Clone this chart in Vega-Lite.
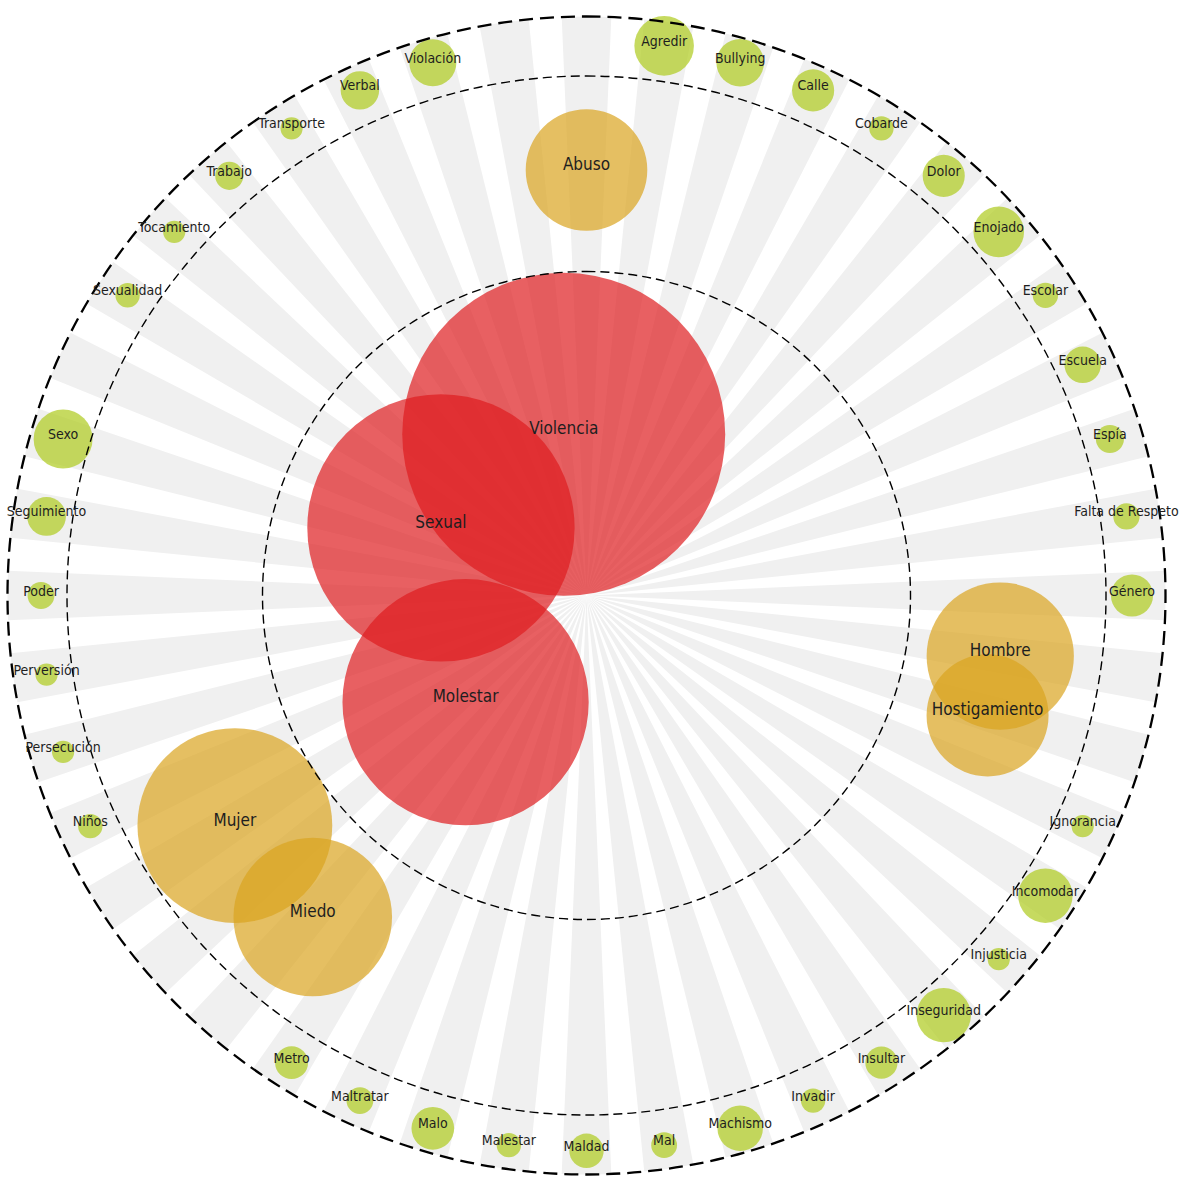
{
  "$schema": "https://vega.github.io/schema/vega-lite/v6.json",
  "width": 1173,
  "height": 1179,
  "autosize": "none",
  "padding": {"left": 0, "top": 6, "right": 24, "bottom": 0},
  "background": "white",
  "config": {"view": {"stroke": null}},
  "data": {
    "values": [
      {"palabra": "Abuso", "nivel": "media", "peso": 30},
      {"palabra": "Agredir", "nivel": "baja", "peso": 7.2},
      {"palabra": "Bullying", "nivel": "baja", "peso": 4.6},
      {"palabra": "Calle", "nivel": "baja", "peso": 3.6},
      {"palabra": "Cobarde", "nivel": "baja", "peso": 1.2},
      {"palabra": "Dolor", "nivel": "baja", "peso": 3.6},
      {"palabra": "Enojado", "nivel": "baja", "peso": 5.2},
      {"palabra": "Escolar", "nivel": "baja", "peso": 1.3},
      {"palabra": "Escuela", "nivel": "baja", "peso": 2.7},
      {"palabra": "Espía", "nivel": "baja", "peso": 1.6},
      {"palabra": "Falta de Respeto", "nivel": "baja", "peso": 1.4},
      {"palabra": "Género", "nivel": "baja", "peso": 3.6},
      {"palabra": "Hombre", "nivel": "media", "peso": 44},
      {"palabra": "Hostigamiento", "nivel": "media", "peso": 30.2},
      {"palabra": "Ignorancia", "nivel": "baja", "peso": 1},
      {"palabra": "Incomodar", "nivel": "baja", "peso": 6},
      {"palabra": "Injusticia", "nivel": "baja", "peso": 1},
      {"palabra": "Inseguridad", "nivel": "baja", "peso": 6},
      {"palabra": "Insultar", "nivel": "baja", "peso": 2.1},
      {"palabra": "Invadir", "nivel": "baja", "peso": 1.2},
      {"palabra": "Machismo", "nivel": "baja", "peso": 4.2},
      {"palabra": "Mal", "nivel": "baja", "peso": 1.35},
      {"palabra": "Maldad", "nivel": "baja", "peso": 2.4},
      {"palabra": "Malestar", "nivel": "baja", "peso": 1.2},
      {"palabra": "Malo", "nivel": "baja", "peso": 3.7},
      {"palabra": "Maltratar", "nivel": "baja", "peso": 1.46},
      {"palabra": "Metro", "nivel": "baja", "peso": 2.2},
      {"palabra": "Miedo", "nivel": "media", "peso": 51},
      {"palabra": "Molestar", "nivel": "alta", "peso": 123},
      {"palabra": "Mujer", "nivel": "media", "peso": 77},
      {"palabra": "Niños", "nivel": "baja", "peso": 1.2},
      {"palabra": "Persecución", "nivel": "baja", "peso": 1},
      {"palabra": "Perversión", "nivel": "baja", "peso": 1},
      {"palabra": "Poder", "nivel": "baja", "peso": 1.46},
      {"palabra": "Seguimiento", "nivel": "baja", "peso": 3.05},
      {"palabra": "Sexo", "nivel": "baja", "peso": 7.05},
      {"palabra": "Sexual", "nivel": "alta", "peso": 145},
      {"palabra": "Sexualidad", "nivel": "baja", "peso": 1.2},
      {"palabra": "Tocamiento", "nivel": "baja", "peso": 1},
      {"palabra": "Trabajo", "nivel": "baja", "peso": 1.6},
      {"palabra": "Transporte", "nivel": "baja", "peso": 1},
      {"palabra": "Verbal", "nivel": "baja", "peso": 3},
      {"palabra": "Violación", "nivel": "baja", "peso": 4.5},
      {"palabra": "Violencia", "nivel": "alta", "peso": 211.6}
    ]
  },
  "transform": [
    {"window": [{"op": "row_number", "as": "orden"}], "sort": [{"field": "palabra", "order": "ascending"}]},
    {"joinaggregate": [{"op": "count", "as": "total"}]},
    {"calculate": "datum.nivel === 'alta' ? 160 : (datum.nivel === 'media' ? 418 : 545.5)", "as": "radio"},
    {"calculate": "2 * PI * (datum.orden - 1) / datum.total", "as": "angulo"},
    {"calculate": "datum.angulo - 0.3 * 2 * PI / datum.total", "as": "ang_ini"},
    {"calculate": "datum.angulo + 0.3 * 2 * PI / datum.total", "as": "ang_fin"},
    {"calculate": "datum.radio * sin(datum.angulo)", "as": "px"},
    {"calculate": "datum.radio * cos(datum.angulo)", "as": "py"}
  ],
  "layer": [
    {
      "mark": {"type": "arc", "radius": 579, "fill": "#f0f0f0", "strokeWidth": 0},
      "encoding": {
        "theta": {"field": "ang_ini", "type": "quantitative", "stack": null, "scale": {"domain": [0, 6.283185307179586], "range": [0, 6.283185307179586], "zero": false, "nice": false}},
        "theta2": {"field": "ang_fin"}
      }
    },
    {
      "mark": {"type": "point", "shape": "circle", "filled": true, "opacity": 0.7, "strokeWidth": 0},
      "encoding": {
        "x": {"field": "px", "type": "quantitative", "scale": {"domain": [-586.5, 586.5], "nice": false, "zero": false}, "axis": null},
        "y": {"field": "py", "type": "quantitative", "scale": {"domain": [-579.1, 579.1], "nice": false, "zero": false}, "axis": null},
        "size": {"field": "peso", "type": "quantitative", "scale": {"domain": [0, 212], "range": [0, 104482], "zero": true}, "legend": null},
        "color": {"field": "nivel", "type": "nominal", "scale": {"domain": ["alta", "media", "baja"], "range": ["#de1c1f", "#daa41f", "#aecb1c"]}, "legend": null}
      }
    },
    {
      "data": {"values": [{"anillo": "exterior"}]},
      "mark": {"type": "arc", "radius": 579, "theta": 0, "theta2": 6.2832, "fillOpacity": 0, "stroke": "#000000", "strokeWidth": 2.3, "strokeDash": [14, 7]},
      "encoding": {}
    },
    {
      "data": {"values": [{"anillo": "medio"}]},
      "mark": {"type": "arc", "radius": 519.5, "theta": 0, "theta2": 6.2832, "fillOpacity": 0, "stroke": "#000000", "strokeWidth": 1.4, "strokeDash": [9, 5]},
      "encoding": {}
    },
    {
      "data": {"values": [{"anillo": "interior"}]},
      "mark": {"type": "arc", "radius": 324, "theta": 0, "theta2": 6.2832, "fillOpacity": 0, "stroke": "#000000", "strokeWidth": 1.4, "strokeDash": [9, 5]},
      "encoding": {}
    },
    {
      "mark": {"type": "text", "align": "center", "baseline": "alphabetic", "font": "DejaVu Sans Condensed, DejaVu Sans, sans-serif", "color": "#1e1e1e"},
      "encoding": {
        "x": {"field": "px", "type": "quantitative", "scale": {"domain": [-586.5, 586.5], "nice": false, "zero": false}, "axis": null},
        "y": {"field": "py", "type": "quantitative", "scale": {"domain": [-579.1, 579.1], "nice": false, "zero": false}, "axis": null},
        "text": {"field": "palabra", "type": "nominal"},
        "size": {"condition": {"test": "datum.nivel === 'baja'", "value": 14}, "value": 17}
      }
    }
  ]
}
